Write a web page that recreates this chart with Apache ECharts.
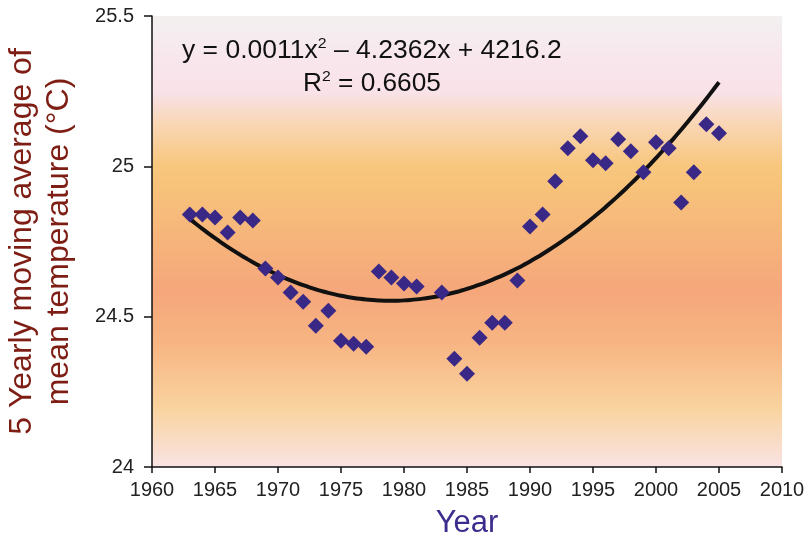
<!DOCTYPE html>
<html><head><meta charset="utf-8">
<script src="https://cdn.jsdelivr.net/npm/echarts@6/dist/echarts.min.js"></script>
<style>html,body{margin:0;padding:0;background:#fff}#c{width:806px;height:542px}</style>
</head><body><div id="c"></div>
<script>
const years = [1963,1964,1965,1966,1967,1968,1969,1970,1971,1972,1973,1974,1975,1976,1977,1978,1979,1980,1981,1983,1984,1985,1986,1987,1988,1989,1990,1991,1992,1993,1994,1995,1996,1997,1998,1999,2000,2001,2002,2003,2004,2005];
const temps = [24.84,24.84,24.83,24.78,24.83,24.82,24.66,24.63,24.58,24.55,24.47,24.52,24.42,24.41,24.40,24.65,24.63,24.61,24.60,24.58,24.36,24.31,24.43,24.48,24.48,24.62,24.80,24.84,24.95,25.06,25.10,25.02,25.01,25.09,25.05,24.98,25.08,25.06,24.88,24.98,25.14,25.11];
const xTicks = {min:1960, max:2010, step:5};
const yTicks = {min:24, max:25.5, step:0.5};

// least-squares quadratic trend fitted to the data (centred x)
function fitQuad(xs, ys){
  const n = xs.length, xm = xs.reduce((a,b)=>a+b,0)/n;
  let S=[0,0,0,0,0], T=[0,0,0];
  xs.forEach((x,i)=>{const u=x-xm;let p=1;for(let k=0;k<5;k++){S[k]+=p;if(k<3)T[k]+=p*ys[i];p*=u;}});
  const A=[[S[0],S[1],S[2],T[0]],[S[1],S[2],S[3],T[1]],[S[2],S[3],S[4],T[2]]];
  for(let i=0;i<3;i++){for(let j=i+1;j<3;j++){const f=A[j][i]/A[i][i];for(let k=i;k<4;k++)A[j][k]-=f*A[i][k];}}
  const c=[0,0,0];
  for(let i=2;i>=0;i--){let s=A[i][3];for(let k=i+1;k<3;k++)s-=A[i][k]*c[k];c[i]=s/A[i][i];}
  return x=>{const u=x-xm;return c[0]+c[1]*u+c[2]*u*u;};
}
const f = fitQuad(years, temps);
const trend = [];
for(let x=years[0]; x<=years[years.length-1]+1e-9; x+=0.5) trend.push([x, f(x)]);

const chart = echarts.init(document.getElementById('c'));
const font = 'Liberation Sans, Arial, sans-serif';
const eqRich = {n:{fontSize:25,fontFamily:font,fill:'#111',lineHeight:30},
                s:{fontSize:15,fontFamily:font,fill:'#111',verticalAlign:'top',padding:[0,0,12,0]}};
chart.setOption({
  animation:false,
  grid:{left:152,right:24,top:16,bottom:75,containLabel:false,outerBoundsMode:'none',
    show:true,borderWidth:0,
    backgroundColor:new echarts.graphic.LinearGradient(0,0,0,1,[
      {offset:0,color:'#f3f0f0'},
      {offset:0.1,color:'#f8e6ec'},
      {offset:0.17,color:'#f9e2e8'},
      {offset:0.24,color:'#f9d6b4'},
      {offset:0.33,color:'#f8c77e'},
      {offset:0.38,color:'#f7c27a'},
      {offset:0.5,color:'#f6b47b'},
      {offset:0.61,color:'#f5a77b'},
      {offset:0.72,color:'#f7b482'},
      {offset:0.87,color:'#f9d39f'},
      {offset:1,color:'#f9e3e4'}
    ])},
  xAxis:{type:'value',min:xTicks.min,max:xTicks.max,interval:xTicks.step,
    name:'Year',nameLocation:'middle',nameGap:41,
    nameTextStyle:{color:'#3b2c8e',fontSize:31,fontFamily:font},
    axisLine:{lineStyle:{color:'#111',width:1.5}},
    axisTick:{show:true,inside:false,length:6,lineStyle:{color:'#111',width:1.5}},
    axisLabel:{color:'#222',fontSize:20,fontFamily:font,margin:13,formatter:v=>String(v)},
    splitLine:{show:false}},
  yAxis:{type:'value',min:yTicks.min,max:yTicks.max,interval:yTicks.step,
    name:'5 Yearly moving average of\nmean temperature (\u00B0C)',nameLocation:'middle',nameRotate:90,nameGap:74,
    nameTextStyle:{color:'#7d1d14',fontSize:32,fontFamily:font,lineHeight:37,align:'center'},
    axisLine:{show:true,lineStyle:{color:'#111',width:1.5}},
    axisTick:{show:true,inside:false,length:8,lineStyle:{color:'#111',width:1.5}},
    axisLabel:{color:'#222',fontSize:20,fontFamily:font,margin:18,formatter:v=>String(v)},
    splitLine:{show:false}},
  graphic:[
    {type:'text',x:182,y:36,scaleX:1.06,style:{
      text:'{n|y = 0.0011x}{s|2}{n| \u2013 4.2362x + 4216.2}',rich:eqRich}},
    {type:'text',x:303,y:69,scaleX:1.05,style:{
      text:'{n|R}{s|2}{n| = 0.6605}',rich:eqRich}}
  ],
  series:[
    {type:'line',data:trend,showSymbol:false,symbol:'none',smooth:true,
     lineStyle:{color:'#111',width:4},z:2},
    {type:'scatter',data:years.map((y,i)=>[y,temps[i]]),symbol:'diamond',symbolSize:[16,16],
     itemStyle:{color:'#3a2886',opacity:1},z:3}
  ]
});
</script></body></html>
